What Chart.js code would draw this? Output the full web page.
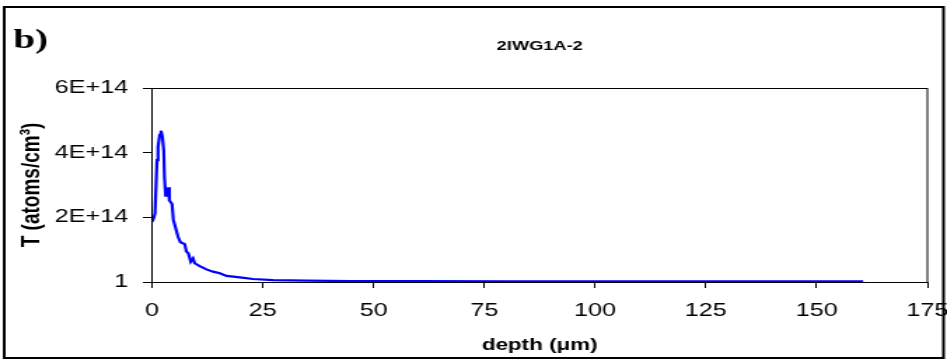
<!DOCTYPE html>
<html>
<head>
<meta charset="utf-8">
<script src="https://cdn.jsdelivr.net/npm/chart.js@4"></script>
<style>
  html, body { margin: 0; padding: 0; background: #fff; }
</style>
</head>
<body>
<!-- the original picture is stretched sideways, so the canvas is drawn narrow and widened by its inline style -->
<canvas id="chart" width="676" height="363" style="display:block;width:947px;height:363px"></canvas>
<script>
// depth in um, T concentration in atoms/cm3
const depth = [0, 0.38, 0.68, 0.84, 1.13, 1.36, 1.74, 2.03, 2.35, 2.64, 2.8, 3.09, 3.32, 3.47, 3.7, 3.92, 4.15, 4.52, 4.82, 5.35, 5.87, 6.41, 7.38, 7.76, 8.2, 8.74, 9.26, 9.64, 10.77, 12.28, 13.78, 15.3, 16.8, 19.8, 22.8, 27.3, 35, 45, 60, 80, 100, 120, 140, 160.5]
const conc = [1.86e14, 1.97e14, 2.12e14, 2.74e14, 3.77e14, 4.18e14, 4.55e14, 4.68e14, 4.49e14, 4.08e14, 3.26e14, 2.64e14, 2.85e14, 2.64e14, 2.93e14, 2.52e14, 2.48e14, 2.41e14, 1.92e14, 1.66e14, 1.40e14, 1.23e14, 1.17e14, 0.94e14, 0.89e14, 0.63e14, 0.73e14, 0.58e14, 0.49e14, 0.39e14, 0.32e14, 0.27e14, 0.19e14, 0.145e14, 0.093e14, 0.06e14, 0.04e14, 0.03e14, 0.025e14, 0.02e14, 0.02e14, 0.02e14, 0.02e14, 0.02e14]
const xTicks = [0, 25, 50, 75, 100, 125, 150, 175]
const yTicks = [0, 2e14, 4e14, 6e14]

const points = depth.map((d, i) => ({ x: d, y: conc[i] }))
const font = '"Liberation Sans", Arial, sans-serif'

const frame = {
    id: 'frame',
    afterDraw (chart) {
        const c = chart.ctx
        const a = chart.chartArea
        c.save()
        c.strokeStyle = '#000'
        c.lineWidth = 1
        c.strokeRect(a.left, a.top + 0.5, a.right - a.left, a.bottom - a.top)
        c.lineWidth = 2
        c.strokeRect(3, 7, 670.5, 351)
        c.fillStyle = '#000'
        c.font = 'bold 28px "Liberation Serif", "Times New Roman", serif'
        c.fillText('b)', 9.5, 48)
        c.restore()
    }
}

new Chart(document.getElementById('chart'), {
    type: 'scatter',
    data: {
        datasets: [{
            label: '2IWG1A-2',
            data: points,
            showLine: true,
            borderColor: '#0000ff',
            borderWidth: 2.2,
            pointRadius: 0,
            tension: 0
        }]
    },
    options: {
        responsive: false,
        animation: false,
        layout: { padding: { left: 0, right: 14, top: 0, bottom: 0 } },
        plugins: {
            legend: { display: false },
            tooltip: { enabled: false },
            title: {
                display: true,
                text: '2IWG1A-2',
                fullSize: false,
                color: '#000',
                font: { family: font, size: 13, weight: 'bold' },
                padding: { top: 39, bottom: 33.4 }
            }
        },
        scales: {
            x: {
                type: 'linear',
                min: 0,
                max: 175,
                afterBuildTicks: (s) => { s.ticks = xTicks.map(v => ({ value: v })) },
                afterFit: (s) => {
                    s.height = 81
                    s.paddingLeft = 0
                    s.paddingRight = 0
                },
                ticks: {
                    color: '#000',
                    padding: 12,
                    maxRotation: 0,
                    font: { family: font, size: 18 }
                },
                grid: { drawOnChartArea: false, tickLength: 6, color: '#000' },
                border: { color: '#000', width: 1 },
                title: {
                    display: true,
                    text: 'depth (μm)',
                    color: '#000',
                    padding: 8,
                    font: { family: font, size: 16, weight: 'bold' }
                }
            },
            y: {
                type: 'linear',
                min: 0,
                max: 6e14,
                afterBuildTicks: (s) => { s.ticks = yTicks.map(v => ({ value: v })) },
                afterFit: (s) => { s.width = 108.5 },
                ticks: {
                    color: '#000',
                    padding: 10.5,
                    font: { family: font, size: 18 },
                    callback: (v) => v === 0 ? '1' : (v / 1e14) + 'E+14'
                },
                grid: { drawOnChartArea: false, tickLength: 6.5, color: '#000' },
                border: { color: '#000', width: 1 },
                title: {
                    display: true,
                    text: 'T (atoms/cm³)',
                    color: '#000',
                    padding: 11.5,
                    font: { family: font, size: 19, weight: 'bold' }
                }
            }
        }
    },
    plugins: [frame]
})
</script>
</body>
</html>
